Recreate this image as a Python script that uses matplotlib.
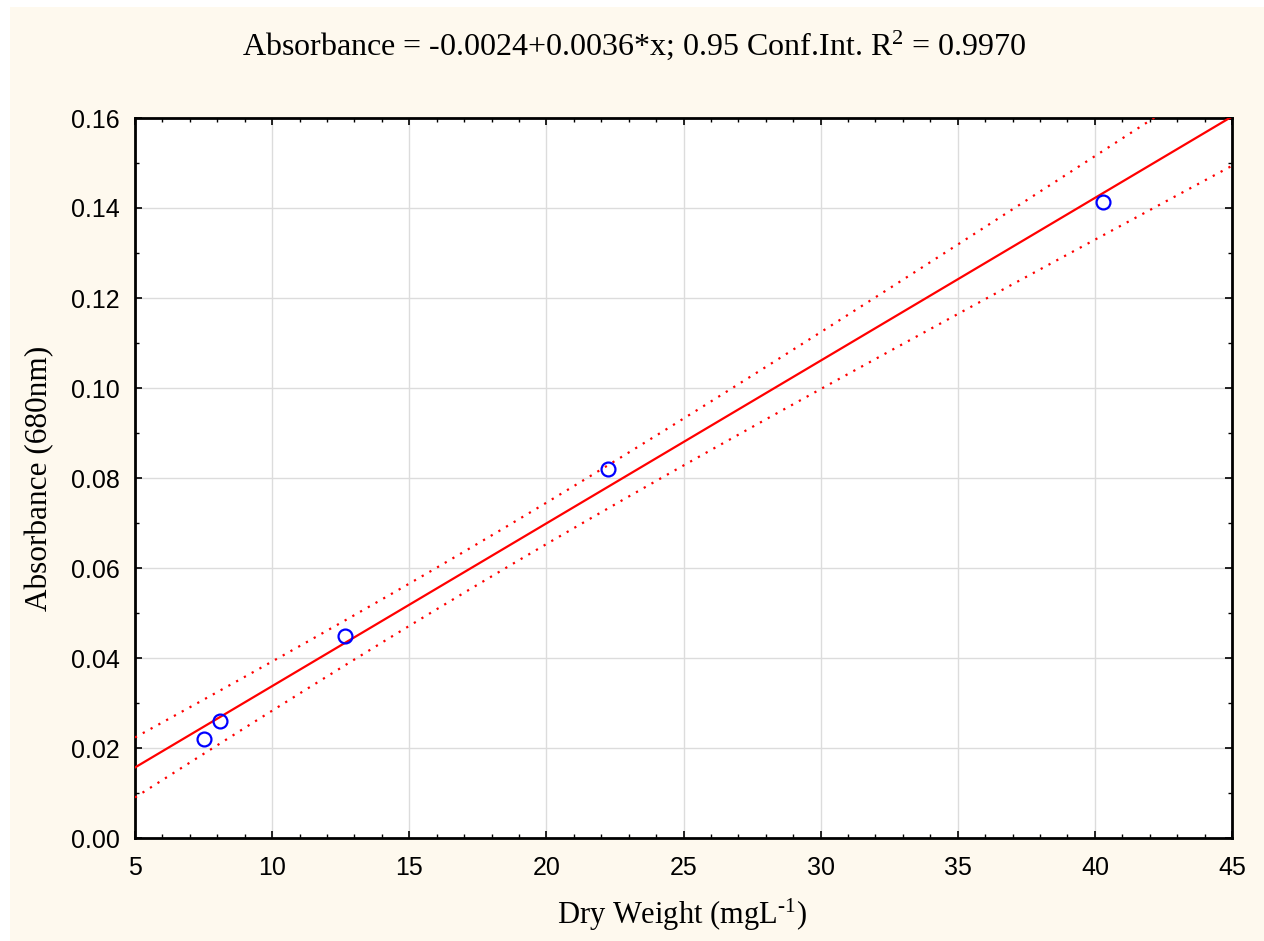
import numpy as np
import matplotlib
matplotlib.use("Agg")
import matplotlib.pyplot as plt
from matplotlib.patches import Rectangle
from matplotlib.ticker import MultipleLocator

# Data
dry_weight = [7.5, 8.1, 12.65, 22.25, 40.3]
absorbance = [0.022, 0.026, 0.045, 0.082, 0.1413]
x_ticks = [5, 10, 15, 20, 25, 30, 35, 40, 45]
y_ticks = [0.00, 0.02, 0.04, 0.06, 0.08, 0.10, 0.12, 0.14, 0.16]
title_text = "Absorbance = -0.0024+0.0036*x; 0.95 Conf.Int. R$^{2}$ = 0.9970"
x_label = "Dry Weight (mgL$^{\u20101}$)"
y_label = "Absorbance (680nm)"

plt.rcParams['mathtext.fontset'] = 'custom'
plt.rcParams['mathtext.rm'] = 'Liberation Serif'
plt.rcParams['mathtext.it'] = 'Liberation Serif:italic'
plt.rcParams['mathtext.default'] = 'rm'

x = np.array(dry_weight)
y = np.array(absorbance)
n = len(x)
slope, intercept = np.polyfit(x, y, 1)
resid = y - (intercept + slope * x)
s = np.sqrt(np.sum(resid**2) / (n - 2))
xbar = x.mean()
sxx = np.sum((x - xbar)**2)
t_crit = 3.182446  # t(0.975, df=3)

xs = np.linspace(x_ticks[0], x_ticks[-1], 400)
yfit = intercept + slope * xs
half = t_crit * s * np.sqrt(1.0 / n + (xs - xbar)**2 / sxx)

fig = plt.figure(figsize=(12.64, 9.41), dpi=100)
fig.patch.set_facecolor('white')
fig.patches.append(Rectangle((10/1264, 0), 1 - 10/1264, 1 - 7/941, transform=fig.transFigure,
                             facecolor='#fef9ee', edgecolor='none', zorder=-10))

ax = fig.add_axes([135/1264, 1 - 838/941, (1232-135)/1264, (838-118)/941])
ax.set_facecolor('white')
ax.plot(xs, yfit, color='red', lw=1.6, zorder=3)
ax.plot(xs, yfit + half, color='red', lw=1.6, ls=(0, (1, 3)), zorder=3)
ax.plot(xs, yfit - half, color='red', lw=1.6, ls=(0, (1, 3)), zorder=3)
ax.plot(x, y, 'o', mfc='none', mec='blue', mew=1.6, ms=10, zorder=4, clip_on=False)

ax.set_xlim(x_ticks[0], x_ticks[-1])
ax.set_ylim(y_ticks[0], y_ticks[-1])
ax.set_xticks(x_ticks)
ax.set_yticks(y_ticks)
ax.set_xticklabels([str(v) for v in x_ticks])
ax.set_yticklabels([f"{v:.2f}" for v in y_ticks])
ax.xaxis.set_minor_locator(MultipleLocator(1))
ax.yaxis.set_minor_locator(MultipleLocator(0.01))
ax.grid(True, which='major', color='#dcdcdc', lw=1)
ax.set_axisbelow(True)
ax.tick_params(which='both', direction='in', top=True, right=True, color='black')
ax.tick_params(which='major', length=5, width=1.2, labelsize=18)
ax.tick_params(axis='x', which='major', pad=13)
ax.tick_params(axis='y', which='major', pad=11)
ax.tick_params(which='minor', length=3, width=1)
for lab in ax.get_xticklabels() + ax.get_yticklabels():
    lab.set_fontfamily('Liberation Sans')
for sp in ax.spines.values():
    sp.set_linewidth(2)
    sp.set_color('black')

fig.text(634/1264, 1 - 45/941, title_text, ha='center', va='center',
         fontsize=23, family='Liberation Serif')
fig.text(682/1264, 1 - 915/941, x_label, ha='center', va='center',
         fontsize=22, family='Liberation Serif')
fig.text(40/1264, 1 - 478/941, y_label, ha='center', va='center', rotation=90,
         fontsize=22.5, family='Liberation Serif')

fig.savefig('out.png', dpi=100, facecolor=fig.get_facecolor())
